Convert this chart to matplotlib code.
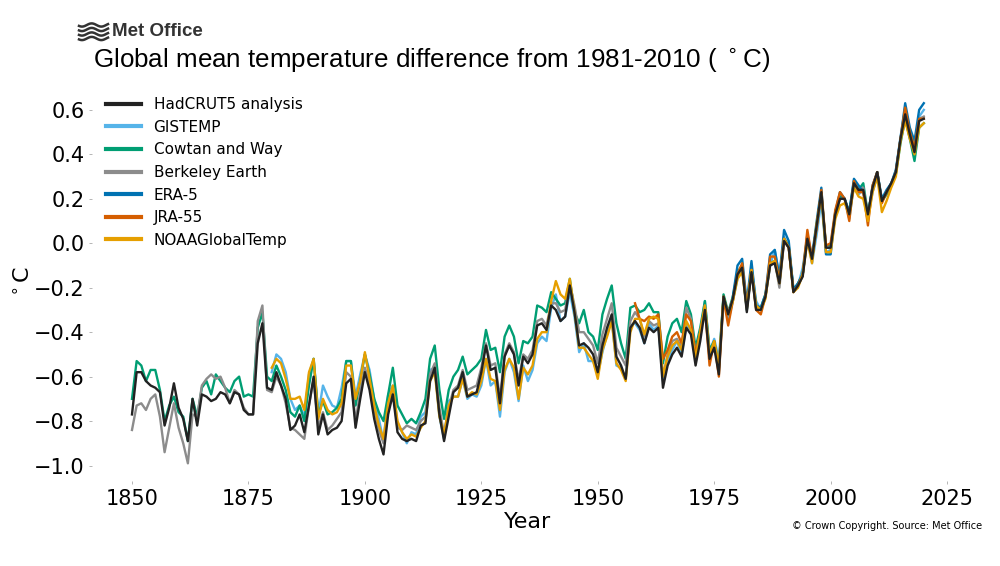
# -*- coding: utf-8 -*-
import numpy as np
import matplotlib
matplotlib.use("Agg")
import matplotlib.pyplot as plt
from matplotlib.lines import Line2D

# ---- data (anomalies vs 1981-2010, deg C) ----
hadcrut5_years = list(range(1850, 2021))
hadcrut5 = [
    -0.77, -0.58, -0.58, -0.62, -0.64, -0.65, -0.67, -0.82, -0.74, -0.63,
    -0.74, -0.79, -0.89, -0.70, -0.82, -0.68, -0.69, -0.71, -0.70, -0.67,
    -0.68, -0.72, -0.67, -0.68, -0.75, -0.77, -0.77, -0.45, -0.36, -0.65,
    -0.66, -0.58, -0.64, -0.70, -0.84, -0.82, -0.77, -0.85, -0.73, -0.60,
    -0.86, -0.77, -0.86, -0.84, -0.83, -0.80, -0.63, -0.61, -0.83, -0.70,
    -0.58, -0.66, -0.79, -0.88, -0.95, -0.77, -0.68, -0.85, -0.88, -0.89,
    -0.88, -0.89, -0.82, -0.81, -0.62, -0.56, -0.77, -0.89, -0.78, -0.67,
    -0.65, -0.58, -0.69, -0.68, -0.67, -0.58, -0.46, -0.57, -0.56, -0.72,
    -0.51, -0.46, -0.50, -0.64, -0.51, -0.54, -0.50, -0.37, -0.36, -0.39,
    -0.28, -0.30, -0.35, -0.33, -0.19, -0.31, -0.46, -0.45, -0.47, -0.50,
    -0.58, -0.46, -0.38, -0.32, -0.51, -0.55, -0.61, -0.38, -0.35, -0.38,
    -0.45, -0.38, -0.40, -0.38, -0.65, -0.55, -0.50, -0.47, -0.51, -0.38,
    -0.41, -0.55, -0.44, -0.30, -0.52, -0.47, -0.59, -0.24, -0.32, -0.25,
    -0.14, -0.11, -0.31, -0.13, -0.30, -0.30, -0.24, -0.10, -0.09, -0.18,
    0.01, -0.02, -0.22, -0.19, -0.15, 0.02, -0.07, 0.08, 0.23, -0.02,
    -0.02, 0.13, 0.20, 0.20, 0.13, 0.27, 0.24, 0.24, 0.13, 0.25,
    0.32, 0.19, 0.23, 0.27, 0.32, 0.47, 0.58, 0.49, 0.41, 0.55,
    0.56,
]

gistemp_years = list(range(1880, 2021))
gistemp = [
    -0.58, -0.50, -0.52, -0.58, -0.70, -0.75, -0.73, -0.78, -0.59, -0.52,
    -0.77, -0.64, -0.69, -0.73, -0.74, -0.65, -0.53, -0.53, -0.69, -0.59,
    -0.50, -0.57, -0.70, -0.79, -0.89, -0.68, -0.64, -0.81, -0.85, -0.90,
    -0.85, -0.86, -0.78, -0.76, -0.57, -0.56, -0.78, -0.88, -0.71, -0.69,
    -0.69, -0.61, -0.70, -0.68, -0.69, -0.64, -0.52, -0.64, -0.62, -0.78,
    -0.58, -0.52, -0.58, -0.71, -0.55, -0.62, -0.57, -0.45, -0.42, -0.44,
    -0.29, -0.23, -0.35, -0.33, -0.22, -0.33, -0.49, -0.45, -0.53, -0.53,
    -0.59, -0.49, -0.41, -0.34, -0.55, -0.56, -0.61, -0.37, -0.36, -0.39,
    -0.45, -0.36, -0.39, -0.37, -0.62, -0.53, -0.48, -0.44, -0.50, -0.37,
    -0.39, -0.50, -0.41, -0.26, -0.49, -0.43, -0.52, -0.24, -0.35, -0.26,
    -0.16, -0.10, -0.28, -0.11, -0.26, -0.30, -0.24, -0.10, -0.03, -0.15,
    0.03, -0.02, -0.20, -0.19, -0.11, 0.03, -0.09, 0.04, 0.19, -0.04,
    -0.03, 0.12, 0.21, 0.20, 0.11, 0.26, 0.22, 0.24, 0.12, 0.23,
    0.30, 0.19, 0.22, 0.26, 0.33, 0.48, 0.61, 0.50, 0.43, 0.57,
    0.60,
]

cowtan_way_years = list(range(1850, 2021))
cowtan_way = [
    -0.70, -0.53, -0.55, -0.62, -0.57, -0.57, -0.66, -0.80, -0.73, -0.69,
    -0.76, -0.78, -0.89, -0.70, -0.78, -0.65, -0.62, -0.68, -0.59, -0.62,
    -0.65, -0.67, -0.62, -0.60, -0.69, -0.68, -0.69, -0.38, -0.31, -0.60,
    -0.62, -0.55, -0.60, -0.66, -0.76, -0.78, -0.73, -0.80, -0.64, -0.52,
    -0.77, -0.71, -0.77, -0.76, -0.74, -0.70, -0.53, -0.53, -0.73, -0.62,
    -0.50, -0.59, -0.70, -0.76, -0.80, -0.68, -0.56, -0.73, -0.77, -0.81,
    -0.79, -0.81, -0.76, -0.70, -0.52, -0.46, -0.66, -0.79, -0.66, -0.60,
    -0.57, -0.51, -0.59, -0.57, -0.55, -0.52, -0.39, -0.48, -0.47, -0.58,
    -0.42, -0.37, -0.42, -0.54, -0.44, -0.45, -0.42, -0.28, -0.29, -0.31,
    -0.22, -0.25, -0.28, -0.27, -0.16, -0.31, -0.36, -0.30, -0.40, -0.42,
    -0.48, -0.32, -0.25, -0.19, -0.36, -0.45, -0.52, -0.29, -0.28, -0.31,
    -0.30, -0.27, -0.31, -0.31, -0.54, -0.42, -0.36, -0.34, -0.40, -0.26,
    -0.32, -0.47, -0.38, -0.26, -0.48, -0.44, -0.56, -0.23, -0.31, -0.24,
    -0.13, -0.10, -0.30, -0.12, -0.29, -0.29, -0.23, -0.09, -0.08, -0.18,
    0.02, -0.01, -0.21, -0.18, -0.14, 0.03, -0.07, 0.08, 0.22, -0.01,
    -0.01, 0.14, 0.21, 0.20, 0.14, 0.28, 0.24, 0.27, 0.13, 0.25,
    0.32, 0.19, 0.22, 0.26, 0.31, 0.45, 0.56, 0.47, 0.37, 0.52,
    0.54,
]

berkeley_years = list(range(1850, 2021))
berkeley = [
    -0.84, -0.73, -0.72, -0.75, -0.70, -0.68, -0.78, -0.94, -0.83, -0.72,
    -0.83, -0.90, -0.99, -0.77, -0.78, -0.64, -0.61, -0.59, -0.61, -0.60,
    -0.65, -0.72, -0.66, -0.68, -0.74, -0.77, -0.77, -0.35, -0.28, -0.66,
    -0.67, -0.60, -0.64, -0.72, -0.83, -0.84, -0.86, -0.88, -0.73, -0.61,
    -0.83, -0.76, -0.84, -0.82, -0.79, -0.76, -0.58, -0.60, -0.80, -0.67,
    -0.56, -0.63, -0.75, -0.84, -0.90, -0.75, -0.66, -0.83, -0.84, -0.82,
    -0.83, -0.84, -0.80, -0.78, -0.59, -0.54, -0.74, -0.86, -0.74, -0.66,
    -0.64, -0.57, -0.66, -0.65, -0.64, -0.56, -0.45, -0.55, -0.54, -0.70,
    -0.50, -0.45, -0.49, -0.62, -0.50, -0.52, -0.48, -0.35, -0.34, -0.37,
    -0.27, -0.27, -0.31, -0.30, -0.18, -0.28, -0.40, -0.40, -0.43, -0.46,
    -0.54, -0.41, -0.34, -0.27, -0.47, -0.51, -0.55, -0.35, -0.31, -0.34,
    -0.42, -0.35, -0.37, -0.36, -0.60, -0.50, -0.44, -0.43, -0.47, -0.29,
    -0.34, -0.50, -0.40, -0.28, -0.50, -0.45, -0.57, -0.25, -0.31, -0.25,
    -0.15, -0.11, -0.30, -0.12, -0.29, -0.30, -0.24, -0.10, -0.08, -0.20,
    0.01, -0.02, -0.21, -0.19, -0.14, 0.02, -0.07, 0.07, 0.22, -0.02,
    -0.02, 0.13, 0.20, 0.20, 0.13, 0.27, 0.24, 0.25, 0.13, 0.25,
    0.32, 0.19, 0.23, 0.27, 0.32, 0.47, 0.58, 0.50, 0.42, 0.56,
    0.57,
]

era5_years = list(range(1979, 2021))
era5 = [
    -0.24, -0.10, -0.07, -0.27, -0.08, -0.28, -0.29, -0.23, -0.05, -0.03,
    -0.15, 0.06, 0.01, -0.21, -0.18, -0.14, 0.04, -0.06, 0.10, 0.25,
    -0.05, -0.05, 0.14, 0.23, 0.20, 0.14, 0.29, 0.26, 0.23, 0.12,
    0.26, 0.32, 0.20, 0.24, 0.27, 0.33, 0.47, 0.63, 0.52, 0.46,
    0.60, 0.63,
]

jra55_years = list(range(1958, 2021))
jra55 = [
    -0.27, -0.34, -0.35, -0.33, -0.34, -0.32, -0.52, -0.48, -0.42, -0.40,
    -0.45, -0.32, -0.35, -0.50, -0.40, -0.29, -0.55, -0.44, -0.60, -0.25,
    -0.37, -0.26, -0.14, -0.09, -0.29, -0.12, -0.30, -0.32, -0.24, -0.06,
    -0.06, -0.17, 0.02, -0.02, -0.22, -0.19, -0.14, 0.06, -0.07, 0.07,
    0.24, -0.01, 0.00, 0.15, 0.23, 0.20, 0.10, 0.28, 0.23, 0.23,
    0.08, 0.26, 0.32, 0.18, 0.23, 0.26, 0.32, 0.47, 0.61, 0.50,
    0.43, 0.56, 0.56,
]

noaa_years = list(range(1880, 2021))
noaa = [
    -0.56, -0.52, -0.54, -0.61, -0.70, -0.70, -0.69, -0.75, -0.58, -0.52,
    -0.79, -0.70, -0.75, -0.77, -0.76, -0.72, -0.55, -0.55, -0.70, -0.62,
    -0.49, -0.61, -0.73, -0.82, -0.88, -0.72, -0.64, -0.80, -0.85, -0.88,
    -0.86, -0.87, -0.83, -0.80, -0.62, -0.58, -0.78, -0.86, -0.73, -0.69,
    -0.69, -0.61, -0.69, -0.67, -0.68, -0.62, -0.52, -0.61, -0.62, -0.75,
    -0.57, -0.52, -0.56, -0.70, -0.56, -0.59, -0.55, -0.43, -0.40, -0.40,
    -0.26, -0.17, -0.23, -0.25, -0.16, -0.31, -0.47, -0.47, -0.50, -0.53,
    -0.61, -0.48, -0.42, -0.35, -0.54, -0.57, -0.62, -0.40, -0.34, -0.34,
    -0.41, -0.34, -0.33, -0.34, -0.60, -0.51, -0.46, -0.44, -0.48, -0.35,
    -0.39, -0.52, -0.40, -0.28, -0.50, -0.44, -0.55, -0.24, -0.32, -0.26,
    -0.16, -0.13, -0.29, -0.12, -0.28, -0.30, -0.25, -0.09, -0.08, -0.18,
    0.02, -0.02, -0.22, -0.20, -0.14, 0.01, -0.09, 0.09, 0.22, -0.04,
    -0.04, 0.11, 0.17, 0.18, 0.13, 0.25, 0.21, 0.20, 0.10, 0.23,
    0.30, 0.14, 0.19, 0.25, 0.30, 0.46, 0.55, 0.47, 0.40, 0.52,
    0.54,
]

series = [
    ("HadCRUT5 analysis", hadcrut5_years, hadcrut5, "#222222"),
    ("GISTEMP", gistemp_years, gistemp, "#56B4E9"),
    ("Cowtan and Way", cowtan_way_years, cowtan_way, "#009E73"),
    ("Berkeley Earth", berkeley_years, berkeley, "#8C8C8C"),
    ("ERA-5", era5_years, era5, "#0072B2"),
    ("JRA-55", jra55_years, jra55, "#D55E00"),
    ("NOAAGlobalTemp", noaa_years, noaa, "#E69F00"),
]

W, H = 1000, 566
fig = plt.figure(figsize=(10, 5.66), dpi=100)
ax = fig.add_axes([0.0924, 0.150, 0.871, 0.703])

handles = []
for i, (name, yrs, vals, col) in enumerate(series):
    z = 10 if name.startswith("HadCRUT5") else 2 + i * 0.1
    ln, = ax.plot(yrs, vals, color=col, lw=1.7, zorder=z, label=name)
    handles.append(ln)

ax.set_xlim(1841.5, 2028.5)
ax.set_ylim(-1.07, 0.72)
ax.set_xticks([1850, 1875, 1900, 1925, 1950, 1975, 2000, 2025])
ax.set_yticks(np.arange(-1.0, 0.61, 0.2))
ax.tick_params(labelsize=15, length=2.5, width=0.6, color="#aaaaaa", pad=3)
for s in ax.spines.values():
    s.set_visible(False)

ax.set_xlabel("Year", fontsize=16, labelpad=2)
ax.set_ylabel(r"$^\circ$C", fontsize=16, labelpad=0)

leg = ax.legend(handles=handles, loc="upper left", fontsize=11,
                frameon=False, handlelength=2.3)
for lh in leg.get_lines():
    lh.set_linewidth(3)

fig.text(0.093, 1 - 60 / H,
         r"Global mean temperature difference from 1981-2010 ( $^\circ$C)",
         fontsize=18.7, family="Liberation Sans", va="center", ha="left")

# Met Office wordmark: little wave icon + name
wx = np.linspace(79, 108, 30)
for k, y0 in enumerate([25, 29.5, 34, 38.5]):
    wy = y0 + 1.6 * np.sin((wx - 79) / 29 * 3 * np.pi + 0.6)
    fig.add_artist(Line2D(wx / W, 1 - wy / H, color="#333333", lw=1.8,
                          transform=fig.transFigure))
fig.text(0.112, 1 - 31 / H, "Met Office", fontsize=13.5, color="#333333",
         weight="bold", family="Liberation Sans", va="center", ha="left")

fig.text(0.982, 1 - 526 / H, "\u00a9 Crown Copyright. Source: Met Office",
         fontsize=7.0, ha="right", va="center")

fig.savefig("out.png", dpi=100)
